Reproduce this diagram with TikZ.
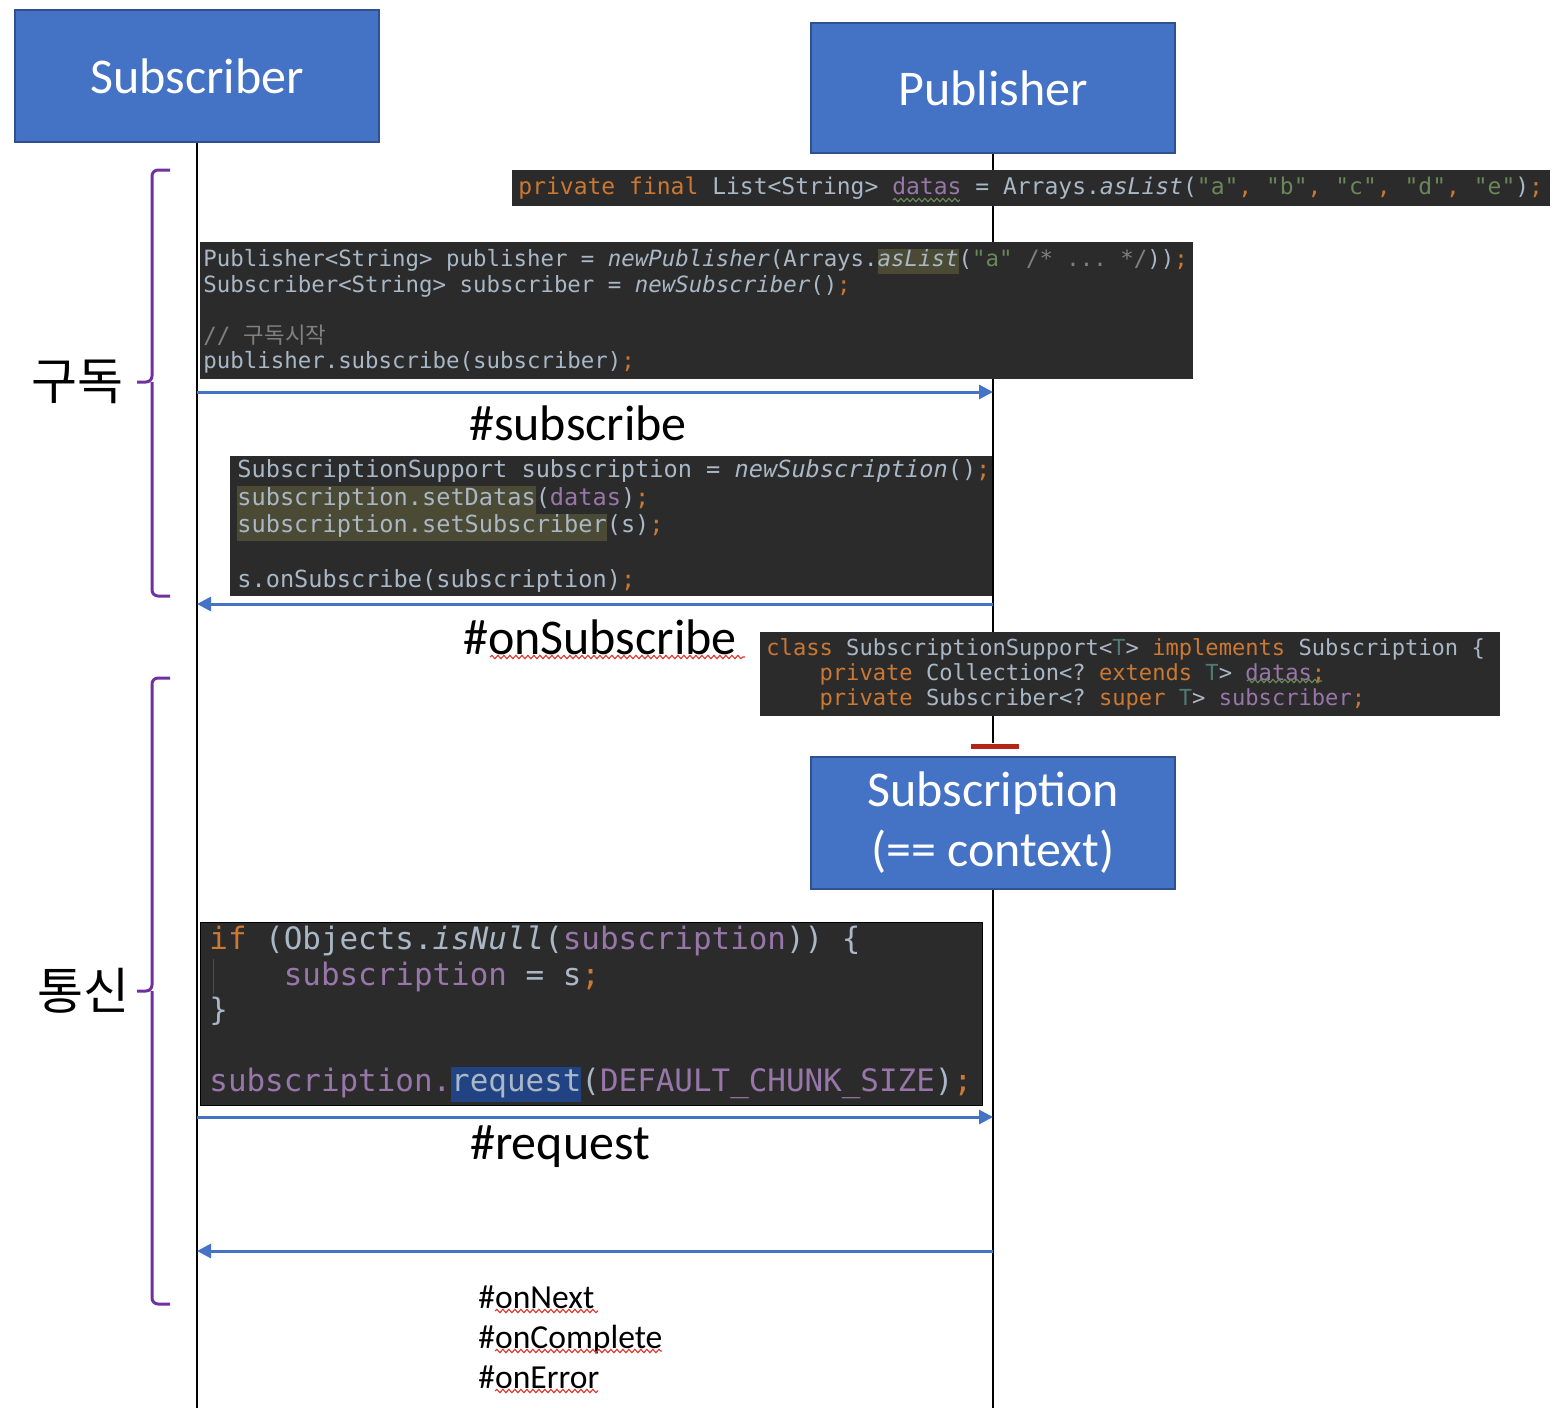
\documentclass[tikz,border=0pt]{standalone}
\usepackage{fontspec}
\setmainfont{Carlito}
\setmonofont{DejaVu Sans Mono}
\newfontfamily\krfont{Noto Sans CJK KR}
\usetikzlibrary{arrows.meta, positioning, decorations.pathmorphing}

\definecolor{boxblue}{HTML}{4472C4}
\definecolor{boxedge}{HTML}{2F528F}
\definecolor{bracecol}{HTML}{7030A0}
\definecolor{barred}{HTML}{B42418}
\definecolor{codebg}{HTML}{2B2B2B}
\definecolor{codefg}{HTML}{A9B7C6}
\definecolor{kwcol}{HTML}{CC7832}
\definecolor{pvcol}{HTML}{9876AA}
\definecolor{strcol}{HTML}{6A8759}
\definecolor{cmtcol}{HTML}{808080}
\definecolor{tparcol}{HTML}{507874}
\definecolor{hlcol}{HTML}{4B4A34}
\definecolor{reqcol}{HTML}{214283}
\definecolor{wavered}{HTML}{E03C31}

\newcommand{\kw}[1]{\textcolor{kwcol}{#1}}
\newcommand{\pv}[1]{\textcolor{pvcol}{#1}}
\newcommand{\strg}[1]{\textcolor{strcol}{#1}}
\newcommand{\cmt}[1]{\textcolor{cmtcol}{#1}}
\newcommand{\tparam}[1]{\textcolor{tparcol}{#1}}
\newcommand{\hlbg}[1]{{\setlength{\fboxsep}{0pt}\colorbox{hlcol}{\strut #1}}}
\newcommand{\reqbg}[1]{{\setlength{\fboxsep}{0pt}\colorbox{reqcol}{\strut #1}}}
\newcommand{\codeind}{\phantom{xxxx}}
% monospaced font with full-width spaces
\newcommand{\codefont}[2]{\ttfamily\fontsize{#1}{#2}\selectfont\frenchspacing
    \spaceskip=\fontcharwd\font`x\relax}

\begin{document}
\begin{tikzpicture}[x=0.5pt, y=-0.5pt,
                    actor/.style={
                        rectangle, draw=boxedge, line width=1pt,
                        fill=boxblue, text=white, align=center,
                        minimum width=182pt, minimum height=65pt,
                        font=\fontsize{25}{30}\selectfont
                        },
                    life/.style={line width=1pt},
                    msg/.style={
                        draw=boxblue, line width=1.5pt,
                        -{Triangle[length=7pt, width=7pt]}
                        },
                    msglabel/.style={font=\fontsize{25}{30}\selectfont},
                    codebox/.style={
                        rectangle, fill=codebg, anchor=north west, inner sep=0pt
                        },
                    codetext/.style={
                        text=codefg, anchor=west, inner sep=0pt, align=left
                        },
                    brace/.style={draw=bracecol, line width=1.5pt, rounded corners=3pt},
                    groupname/.style={font=\krfont\fontsize{25}{30}\selectfont},
                    wavy/.style={
                        draw=wavered, line width=0.6pt, decorate,
                        decoration={snake, amplitude=0.8pt, segment length=3pt}
                        }
                    ]
    \useasboundingbox (0,0) rectangle (1558,1408);

    % actors
    \node [actor, minimum height=66pt] (sub) at (197,76) {Subscriber};
    \node [actor] (pub) at (993,88) {Publisher};
    \node [actor, minimum height=66pt] (subn) at (993,823) {Subscription\\(== context)};
    \node [fill=barred, minimum width=24pt, minimum height=2.5pt, inner sep=0pt] (bar) at (995,746) {};

    \coordinate (bottom) at (0,1408);
    \coordinate (r1) at (0,392);
    \coordinate (r2) at (0,604);
    \coordinate (r3) at (0,1117);
    \coordinate (r4) at (0,1251);

    % lifelines
    \draw [life] (sub.south) -- (sub.south |- bottom);
    \draw [life] (pub.south) -- (pub.south |- bar.north);
    \draw [life] (subn.south) -- (subn.south |- bottom);

    % code
    \node [codebox, minimum width=519pt, minimum height=18pt] (code1) at (512,170) {};
    \node [codetext, font=\codefont{11.5}{13}] (code1txt) at ([xshift=3pt]code1.west)
        {\kw{private final} List<String> \pv{datas} = Arrays.\textit{asList}(\strg{"a"}\kw{,} \strg{"b"}\kw{,} \strg{"c"}\kw{,} \strg{"d"}\kw{,} \strg{"e"})\kw{;}};

    \node [codebox, minimum width=496.5pt, minimum height=68.5pt] (code2) at (200,242) {};
    \node [codetext, font=\codefont{11.2}{12.75}] (code2txt) at ([xshift=1.5pt]code2.west)
        {Publisher<String> publisher = \textit{newPublisher}(Arrays.\hlbg{\textit{asList}}(\strg{"a"} \cmt{/* ... */}))\kw{;}\\
         Subscriber<String> subscriber = \textit{newSubscriber}()\kw{;}\\
         \mbox{}\\
         \cmt{// {\krfont 구독시작}}\\
         publisher.subscribe(subscriber)\kw{;}};

    \node [codebox, minimum width=381pt, minimum height=70pt] (code3) at (230,456) {};
    \node [codetext, font=\codefont{11.8}{13.75}] (code3txt) at ([xshift=3.5pt]code3.west)
        {SubscriptionSupport subscription = \textit{newSubscription}()\kw{;}\\
         \hlbg{subscription.setDatas}(\pv{datas})\kw{;}\\
         \hlbg{subscription.setSubscriber}(s)\kw{;}\\
         \mbox{}\\
         s.onSubscribe(subscription)\kw{;}};

    \node [codebox, minimum width=370pt, minimum height=42pt] (code4) at (760,632) {};
    \node [codetext, font=\codefont{11.05}{12.5}] (code4txt) at ([xshift=3pt]code4.west)
        {\kw{class} SubscriptionSupport<\tparam{T}> \kw{implements} Subscription \{\\
         \codeind\kw{private} Collection<? \kw{extends} \tparam{T}> \pv{datas}\kw{;}\\
         \codeind\kw{private} Subscriber<? \kw{super} \tparam{T}> \pv{subscriber}\kw{;}};

    \node [codebox, draw=black, line width=0.5pt, minimum width=391pt, minimum height=91.5pt] (code5) at (200,922) {};
    \node [codetext, font=\codefont{15.45}{17.75}] (code5txt) at ([xshift=4.5pt]code5.west)
        {\kw{if} (Objects.\textit{isNull}(\pv{subscription})) \{\\
         \codeind\pv{subscription} = s\kw{;}\\
         \}\\
         \mbox{}\\
         \pv{subscription.}\reqbg{request}(\pv{DEFAULT\_CHUNK\_SIZE})\kw{;}};
    \draw [black!70, line width=0.5pt] (213,959) -- (213,994);

    % messages
    \draw [msg] (sub.south |- r1) -- (pub.south |- r1);
    \draw [msg] (pub.south |- r2) -- (sub.south |- r2);
    \draw [msg] (sub.south |- r3) -- (subn.south |- r3);
    \draw [msg] (subn.south |- r4) -- (sub.south |- r4);

    \node [msglabel] (lblsub) at (578,423) {\#subscribe};
    \node [msglabel] (lblonsub) at (600,637) {\#onSubscribe};
    \node [msglabel] (lblreq) at (560,1147) {\#request};
    \node [anchor=west, align=left, inner sep=0pt, font=\fontsize{16.8}{20}\selectfont] (lblnext) at (478,1337)
        {\#onNext\\\#onComplete\\\#onError};

    % spell marks
    \draw [wavy] (490,657) -- (745,657);
    \draw [wavy] (495,1311) -- (598,1311);
    \draw [wavy] (495,1351) -- (662,1351);
    \draw [wavy] (495,1391) -- (598,1391);
    \draw [wavy, draw=strcol] (893,200) -- (960,200);
    \draw [wavy, draw=strcol] (1247,681) -- (1322,681);

    % groups
    \draw [brace] (170,170) -| (152,382) -- (137,382) (152,382) |- (170,596);
    \draw [brace] (170,678) -| (152,991) -- (137,991) (152,991) |- (170,1304);
    \node [groupname] (grpsub) at (78,382) {구독};
    \node [groupname] (grpcom) at (83,991) {통신};
\end{tikzpicture}
\end{document}
